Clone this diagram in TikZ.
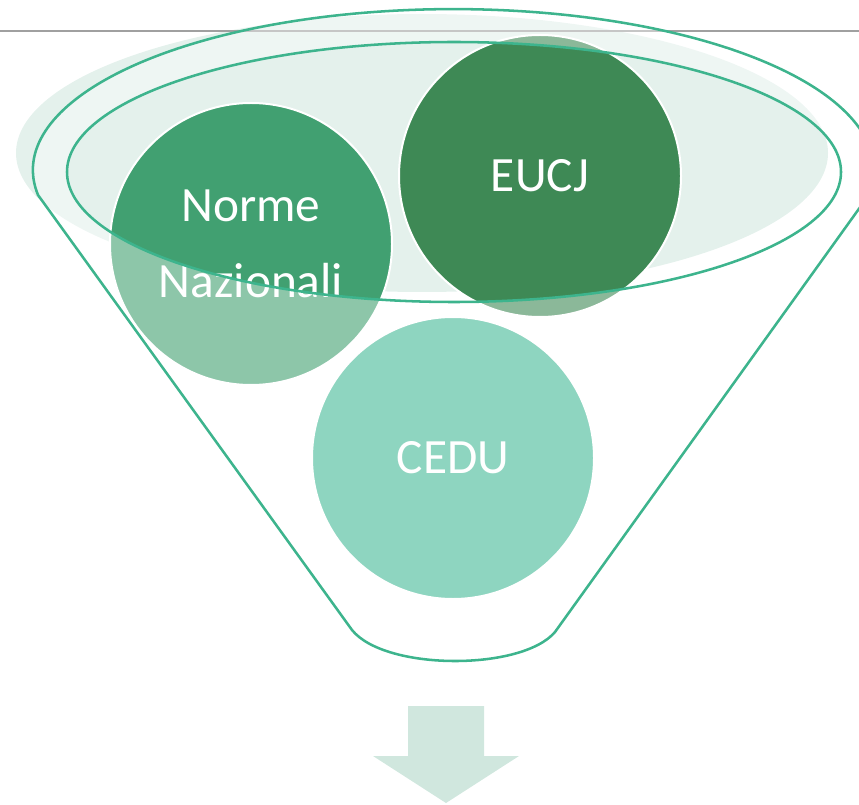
\documentclass[tikz,border=0pt]{standalone}
\usepackage{fontspec}
\setmainfont{Carlito}
\usepackage{xcolor}
\usepackage{tikz}
\usetikzlibrary{positioning}

\definecolor{rimteal}{HTML}{3DB48D}
\definecolor{mouthfill}{HTML}{E4F1EC}
\definecolor{normegreen}{HTML}{41A071}
\definecolor{eucjgreen}{HTML}{3E8955}
\definecolor{ceduteal}{HTML}{43B996}
\definecolor{arrowfill}{HTML}{D0E7DE}
\definecolor{rulegray}{HTML}{A0A0A0}

\begin{document}
\begin{tikzpicture}[x=0.75pt,y=0.75pt,
  bubble/.style={circle,draw=white,line width=1.5pt,minimum size=211.5pt,inner sep=0pt,
    text=white,align=center,font=\fontsize{37}{57}\selectfont},
  rim/.style={draw=rimteal,line width=1.9pt}]
\useasboundingbox (0,0) rectangle (859,-805);
% mouth of the funnel
\fill[mouthfill] (422,-153) ellipse [x radius=406, y radius=139];
\draw[rulegray,line width=1.1pt] (0,-31) -- (859,-31);
% the three sources
\node[bubble,fill=normegreen] (norme) at (251,-244) {Norme\\Nazionali};
\node[bubble,fill=eucjgreen] (eucj) at (540,-176) {EUCJ};
\node[bubble,fill=ceduteal] (cedu) at (453,-458) {CEDU};
% body of the funnel, lighter outside the mouth
\fill[white,fill opacity=0.4,even odd rule] (38,-195) arc [start angle=188.9, end angle=-8.9,
x radius=420.5, y radius=161] -- (555,-632) .. controls (522,-671) and (385,-671) .. (352,-630) -- cycle
(454,-172) ellipse [x radius=387, y radius=130];
\draw[rim] (38,-195) arc [start angle=188.9, end angle=-8.9,
x radius=420.5, y radius=161] -- (555,-632) .. controls (522,-671) and (385,-671) .. (352,-630) -- cycle;
\draw[rim] (454,-172) ellipse [x radius=387, y radius=130];
% arrow below
\fill[arrowfill] (408,-706) -- (484,-706) -- (484,-756) -- (519,-756) -- (446,-803)
-- (373,-756) -- (408,-756) -- cycle;
\end{tikzpicture}
\end{document}
